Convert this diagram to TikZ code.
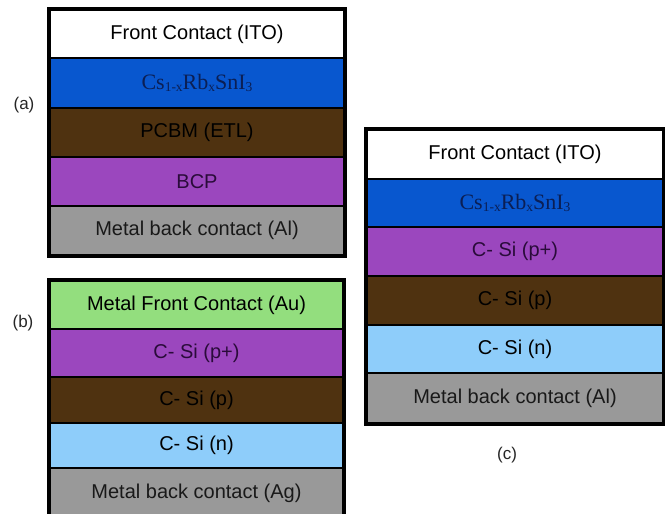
\documentclass[tikz,border=0pt]{standalone}
\usepackage{fontspec}
\setmainfont{Liberation Sans}
\newfontfamily\timesfont{Liberation Serif}
\definecolor{perovblue}{HTML}{0857CF}
\definecolor{etlbrown}{HTML}{4F3210}
\definecolor{bcppurple}{HTML}{9B47BE}
\definecolor{metalgray}{HTML}{999999}
\definecolor{augreen}{HTML}{93DE7E}
\definecolor{nsiblue}{HTML}{8ECDFA}
\definecolor{navytext}{HTML}{0B1F55}
\definecolor{darkpurple}{HTML}{2A0B3A}
\newcommand{\sublow}[1]{\raisebox{-0.15ex}{\fontsize{13.5}{13.5}\selectfont #1}}
\newcommand{\perovskite}{{\timesfont\fontsize{22}{22}\selectfont Cs\sublow{1-x}Rb\sublow{x}SnI\sublow{3}}}
\begin{document}
\begin{tikzpicture}[x=1pt,y=-1pt,
  layer/.style={draw=black,line width=2.5pt,rectangle,inner sep=0pt,
    minimum width=#1,font=\fontsize{20}{20}\selectfont},
  layer/.default=294pt,
  tag/.style={font=\fontsize{17}{17}\selectfont,text=black!85},
  frame/.style={draw=black,line width=3pt}]
\useasboundingbox (0,0) rectangle (665,514);
\fill[white] (0,0) rectangle (665,514);

% stack (a): perovskite cell
\node[layer,minimum height=48pt,fill=white] (a1) at (197,34) {Front Contact (ITO)};
\node[layer,minimum height=50pt,fill=perovblue,text=navytext] (a2) at (197,83) {\perovskite};
\node[layer,minimum height=49pt,fill=etlbrown,text=black] (a3) at (197,132.5) {PCBM (ETL)};
\node[layer,minimum height=49pt,fill=bcppurple,text=darkpurple] (a4) at (197,181.5) {BCP};
\node[layer,minimum height=49pt,fill=metalgray,text=black!90] (a5) at (197,230.5) {Metal back contact (Al)};
\draw[frame] (a1.north west) rectangle (a5.south east);
\node[tag] (la) at (24,105) {(a)};

% stack (b): crystalline silicon cell
\node[layer=293pt,minimum height=48pt,fill=augreen,text=black] (b1) at (196.5,305) {Metal Front Contact (Au)};
\node[layer=293pt,minimum height=48pt,fill=bcppurple,text=darkpurple] (b2) at (196.5,353) {C- Si (p+)};
\node[layer=293pt,minimum height=46pt,fill=etlbrown,text=black] (b3) at (196.5,400) {C- Si (p)};
\node[layer=293pt,minimum height=45pt,fill=nsiblue,text=black] (b4) at (196.5,445.5) {C- Si (n)};
\node[layer=293pt,minimum height=50pt,fill=metalgray,text=black!90] (b5) at (196.5,493) {Metal back contact (Ag)};
\draw[frame] (b1.north west) rectangle (b5.south east);
\node[tag] (lb) at (23,323) {(b)};

% stack (c): perovskite/silicon tandem cell
\node[layer=296pt,minimum height=49pt,fill=white] (c1) at (515,154.5) {Front Contact (ITO)};
\node[layer=296pt,minimum height=48pt,fill=perovblue,text=navytext] (c2) at (515,203) {\perovskite};
\node[layer=296pt,minimum height=49pt,fill=bcppurple,text=darkpurple] (c3) at (515,251.5) {C- Si (p+)};
\node[layer=296pt,minimum height=49pt,fill=etlbrown,text=black] (c4) at (515,300.5) {C- Si (p)};
\node[layer=296pt,minimum height=48pt,fill=nsiblue,text=black] (c5) at (515,349) {C- Si (n)};
\node[layer=296pt,minimum height=50pt,fill=metalgray,text=black!90] (c6) at (515,398) {Metal back contact (Al)};
\draw[frame] (c1.north west) rectangle (c6.south east);
\node[tag] (lc) at (507,455) {(c)};
\end{tikzpicture}
\end{document}
